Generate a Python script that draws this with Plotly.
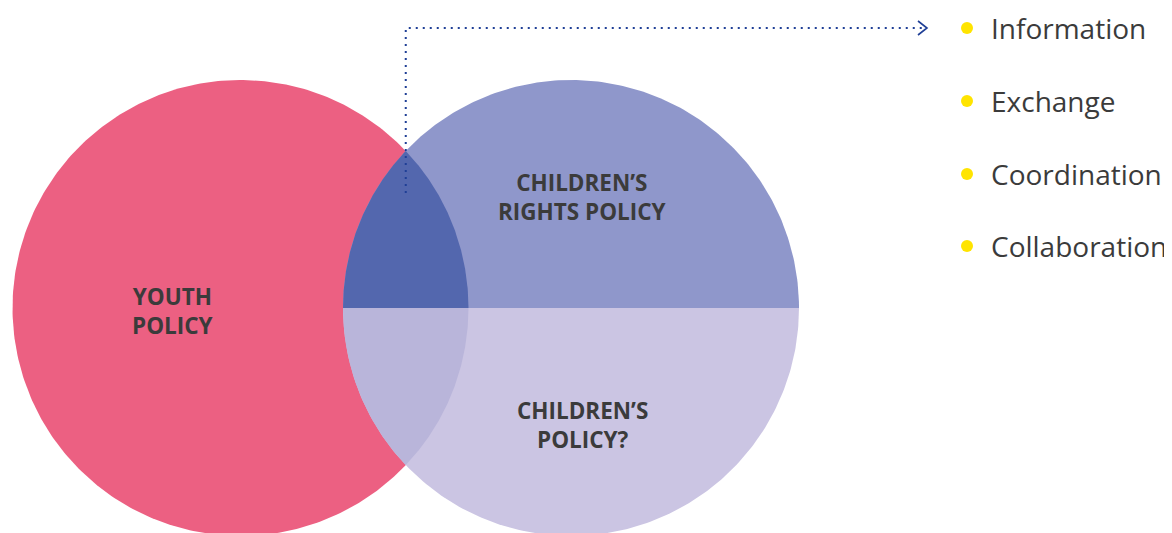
import numpy as np
import plotly.graph_objects as go

# circles of the diagram (pixel space, y grows downward)
circle_names = ["YOUTH POLICY", "CHILDREN'S RIGHTS POLICY"]
circle_cx = [240.5, 571.0]
circle_cy = [308.0, 308.0]
circle_r = [228.0, 228.0]

# texts
labels = ["YOUTH<br>POLICY", "CHILDREN’S<br>RIGHTS POLICY", "CHILDREN’S<br>POLICY?"]
label_x = [173, 582, 582]
label_y = [311, 197, 425]

list_items = ["Information", "Exchange", "Coordination", "Collaboration"]
list_y = [28, 101, 174, 246]

PINK = "#EC6082"
BLUE_TOP = "#8F97CB"
LILAC_BOTTOM = "#CBC5E3"
LENS_TOP = "#5367AE"
LENS_BOTTOM = "#B9B5DA"
TEXT = "#3b3b3b"
ARROW = "#1f3f96"

# the page body has an 8px margin, shift the axes so coordinates match the screen
OFF = 8


def arc(cx, cy, r, t0, t1, n=200):
    t = np.linspace(t0, t1, n)
    return cx + r * np.cos(t), cy + r * np.sin(t)


def add_poly(fig, xs, ys, color):
    fig.add_trace(go.Scatter(
        x=np.concatenate(xs), y=np.concatenate(ys),
        mode='lines', fill='toself', fillcolor=color,
        line=dict(width=0), hoverinfo='skip', showlegend=False
    ))


fig = go.Figure()

x1, y1, r1 = circle_cx[0], circle_cy[0], circle_r[0]
x2, y2, r2 = circle_cx[1], circle_cy[1], circle_r[1]

# youth policy circle
ax, ay = arc(x1, y1, r1, 0, 2 * np.pi, 400)
add_poly(fig, [ax], [ay], PINK)

# right circle, upper and lower half
ax, ay = arc(x2, y2, r2, np.pi, 2 * np.pi)
add_poly(fig, [ax], [ay], BLUE_TOP)
ax, ay = arc(x2, y2, r2, 0, np.pi)
add_poly(fig, [ax], [ay], LILAC_BOTTOM)

# lens (overlap), split on the centre line
d = x2 - x1
a = (d * d + r1 * r1 - r2 * r2) / (2 * d)
h = np.sqrt(r1 * r1 - a * a)
t1 = np.arctan2(-h, a)
t2 = np.arctan2(-h, -(d - a))

bx, by = arc(x1, y1, r1, 0, t1)
cx_, cy_ = arc(x2, y2, r2, 2 * np.pi + t2, np.pi)
add_poly(fig, [bx, cx_], [by, cy_], LENS_TOP)

bx, by = arc(x1, y1, r1, 0, -t1)
cx_, cy_ = arc(x2, y2, r2, -t2, np.pi)
add_poly(fig, [bx, cx_], [by, cy_], LENS_BOTTOM)

# dotted connector from the overlap to the list
vx = x1 + a
fig.add_trace(go.Scatter(
    x=[vx, vx, 924], y=[193, list_y[0], list_y[0]],
    mode='lines', line=dict(color=ARROW, width=2, dash='2px,5px'),
    hoverinfo='skip', showlegend=False
))
fig.add_trace(go.Scatter(
    x=[918, 927, 918], y=[list_y[0] - 7, list_y[0], list_y[0] + 7],
    mode='lines', line=dict(color=ARROW, width=1.6),
    hoverinfo='skip', showlegend=False
))

# list bullets
fig.add_trace(go.Scatter(
    x=[967] * len(list_items), y=list_y,
    mode='markers', marker=dict(size=12, color='#FFE400', line=dict(width=0)),
    hoverinfo='skip', showlegend=False
))

for item, yy in zip(list_items, list_y):
    fig.add_annotation(
        x=989, y=yy, text=item, showarrow=False, xanchor='left', yanchor='middle',
        font=dict(family='Open Sans', size=28, color=TEXT)
    )

for txt, lx, ly in zip(labels, label_x, label_y):
    fig.add_annotation(
        x=lx, y=ly, text=f"<b>{txt}</b>", showarrow=False, align='center',
        xanchor='center', yanchor='middle',
        font=dict(family='Open Sans', size=22.5, color=TEXT)
    )

fig.update_layout(
    width=1172, height=533,
    margin=dict(l=0, r=0, t=0, b=0),
    paper_bgcolor='white', plot_bgcolor='white',
    xaxis=dict(range=[OFF, 1172 + OFF], visible=False, fixedrange=True),
    yaxis=dict(range=[533 + OFF, OFF], visible=False, fixedrange=True),
    showlegend=False
)

fig.write_html("out.html")
